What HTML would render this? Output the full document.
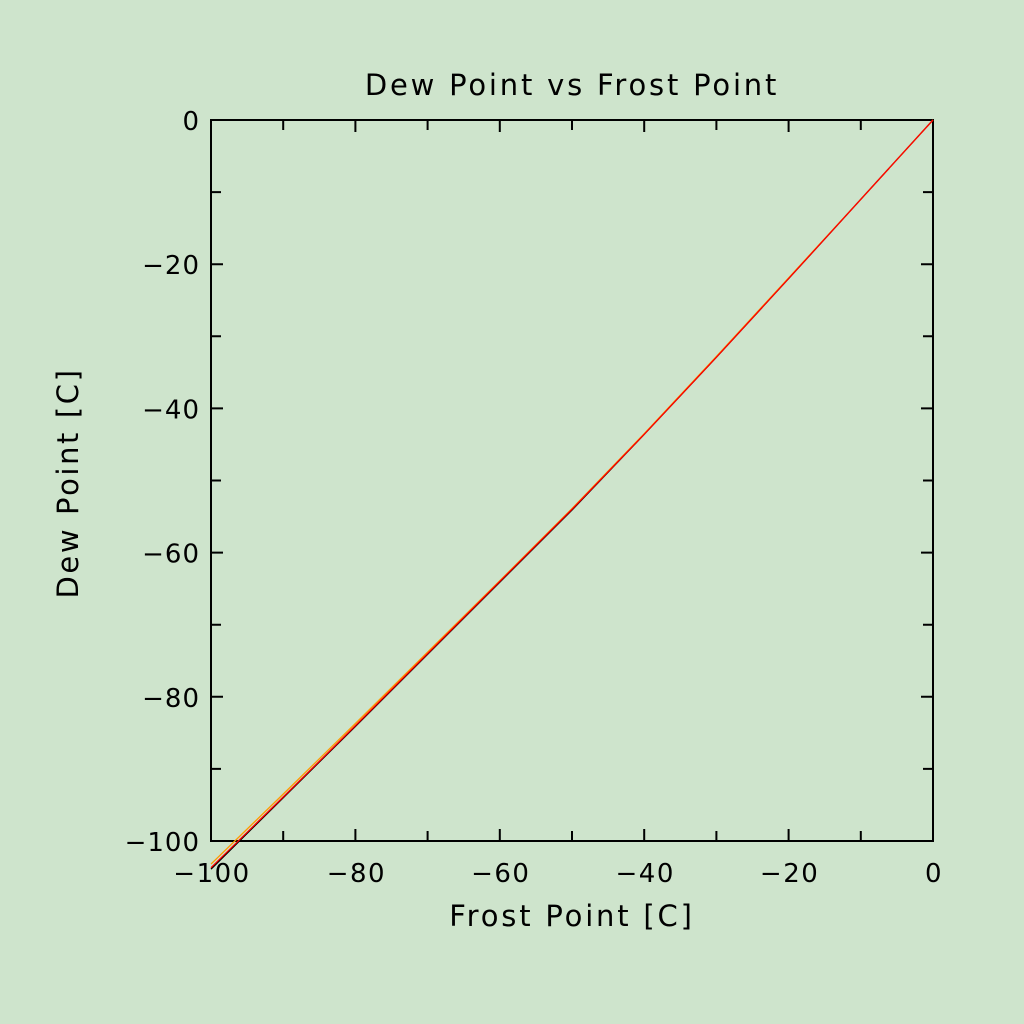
<!DOCTYPE html>
<html><head><meta charset="utf-8"><style>
body{margin:0;background:#cee4cc;}
svg{display:block}
text{font-family:"DejaVu Sans","Liberation Sans",sans-serif;fill:#000}
</style></head><body>
<svg id="chart" width="1024" height="1024" viewBox="0 0 1024 1024">
<rect width="1024" height="1024" fill="#cee4cc"/>
<text x="572" y="95" font-size="29" letter-spacing="2.8" text-anchor="middle">Dew Point vs Frost Point</text>
<text x="572" y="926" font-size="29" letter-spacing="2.8" text-anchor="middle">Frost Point [C]</text>
<text x="78" y="483" font-size="29" letter-spacing="2.6" text-anchor="middle" transform="rotate(-90 78 483)">Dew Point [C]</text>
<g id="axes"></g>
<g id="series"></g>
</svg>
<script>
const frost=[0,-10,-20,-30,-40,-50,-60,-70,-80,-90,-100];
const dewBlack=[0,-11.0,-22.0,-32.9,-43.6,-54.1,-64.1,-74.1,-84.1,-94.0,-103.9];
const dewRed=[0,-11.0,-22.0,-32.9,-43.6,-54.0,-64.0,-74.0,-84.0,-93.9,-103.7];
const dewOrange=[0,-11.0,-21.9,-32.8,-43.5,-53.9,-63.9,-73.8,-83.7,-93.5,-103.2];
const xTicks=[-100,-80,-60,-40,-20,0];
const yTicks=[0,-20,-40,-60,-80,-100];
const X0=211,X1=933,Y0=120,Y1=841;
const sx=v=>X0+(v+100)/100*(X1-X0);
const sy=v=>Y0+(0-v)/100*(Y1-Y0);
const NS="http://www.w3.org/2000/svg";
const axes=document.getElementById('axes');
function mk(tag,attrs,parent){const e=document.createElementNS(NS,tag);for(const k in attrs)e.setAttribute(k,attrs[k]);parent.appendChild(e);return e;}
const frame=mk('rect',{x:X0,y:Y0,width:X1-X0,height:Y1-Y0,fill:'none',stroke:'#000','stroke-width':2},axes);


for(let v=-100;v<=0;v+=10){
  const major=v%20===0, L=major?12:10;
  const x=sx(v),y=sy(v);
  let t=mk('path',{d:`M${x},${Y1}V${Y1-L}M${x},${Y0}V${Y0+L}M${X0},${y}H${X0+L}M${X1},${y}H${X1-L}`,stroke:'#000','stroke-width':2},axes);
  
  
}
xTicks.forEach(v=>{const t=mk('text',{x:sx(v)+1,y:882,'font-size':26,'letter-spacing':1.5,'text-anchor':'middle'},axes);t.textContent=v.toString().replace('-','\u2212');
  
  });
yTicks.forEach(v=>{const t=mk('text',{x:200,y:sy(v)+10,'font-size':26,'letter-spacing':1,'text-anchor':'end'},axes);t.textContent=v.toString().replace('-','\u2212');
  
  });
const ser=document.getElementById('series');
[[dewBlack,'#000','dew-black-line'],[dewOrange,'#ff9900','dew-orange-line'],[dewRed,'#ff0000','dew-red-line']].forEach(([d,c,n])=>{
  const p=mk('polyline',{points:frost.map((f,i)=>sx(f)+','+sy(d[i])).join(' '),fill:'none',stroke:c,'stroke-width':1.3},ser);
  
  
});
</script>
</body></html>
